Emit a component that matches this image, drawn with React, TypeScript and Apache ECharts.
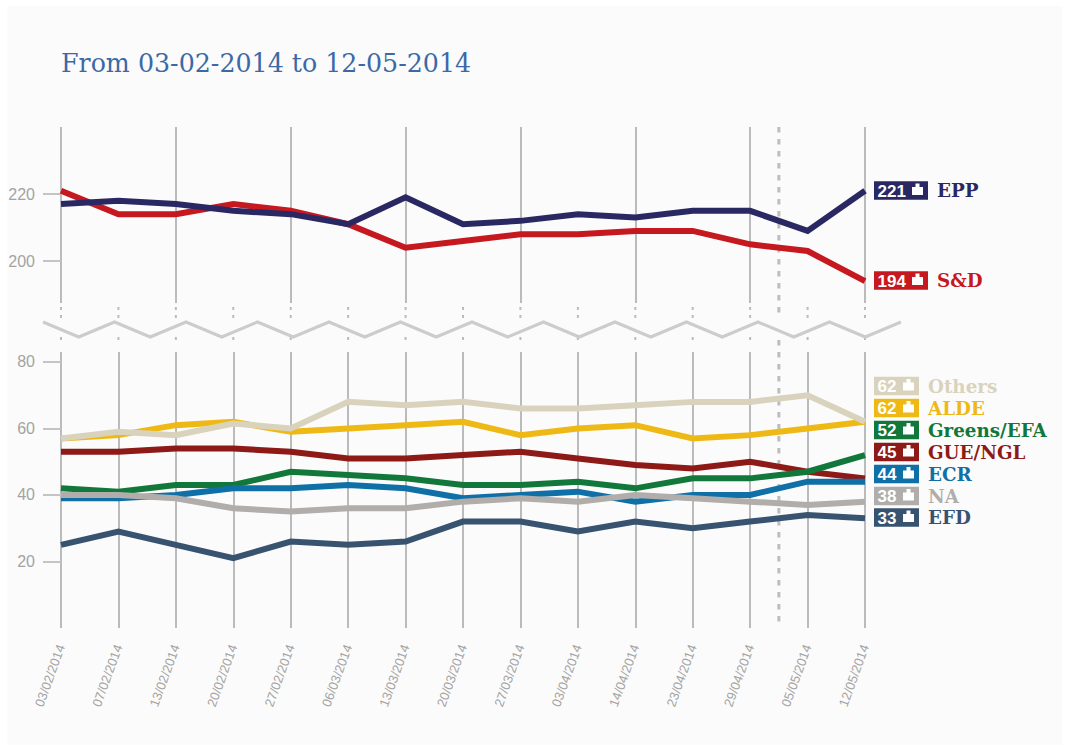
import React, { useEffect, useRef } from "react";
import * as echarts from "echarts";

const W = 1068;
const H = 747;

const dates = ["03/02/2014","07/02/2014","13/02/2014","20/02/2014","27/02/2014","06/03/2014","13/03/2014","20/03/2014","27/03/2014","03/04/2014","14/04/2014","23/04/2014","29/04/2014","05/05/2014","12/05/2014"];

const epp = [217,218,217,215,214,211,219,211,212,214,213,215,215,209,221];
const sd = [221,214,214,217,215,211,204,206,208,208,209,209,205,203,194];
const others = [57,59,58,61.5,60,68,67,68,66,66,67,68,68,70,62];
const alde = [57,58,61,62,59,60,61,62,58,60,61,57,58,60,62];
const greens = [42,41,43,43,47,46,45,43,43,44,42,45,45,47,52];
const gue = [53,53,54,54,53,51,51,52,53,51,49,48,50,47,45];
const ecr = [39,39,40,42,42,43,42,39,40,41,38,40,40,44,44];
const na = [40,40,39,36,35,36,36,38,39,38,40,39,38,37,38];
const efd = [25,29,25,21,26,25,26,32,32,29,32,30,32,34,33];

const upperTicks = [200, 220];
const lowerTicks = [20, 40, 60, 80];

const titleText = "From 03-02-2014 to 12-05-2014";

const C = {
  epp: "#2a2863", sd: "#c5181f", others: "#d9d3bd", alde: "#eeb914", greens: "#12773a",
  gue: "#8e1a17", ecr: "#0f70a8", na: "#b0adab", efd: "#38536f",
};

const upperSeries = [
  { name: "S&D", data: sd, color: C.sd },
  { name: "EPP", data: epp, color: C.epp },
];
const lowerSeries = [
  { name: "GUE/NGL", data: gue, color: C.gue },
  { name: "Greens/EFA", data: greens, color: C.greens },
  { name: "ECR", data: ecr, color: C.ecr },
  { name: "NA", data: na, color: C.na },
  { name: "EFD", data: efd, color: C.efd },
  { name: "ALDE", data: alde, color: C.alde },
  { name: "Others", data: others, color: C.others },
];

const tags = [
  { name: "EPP", value: epp[14], color: C.epp, y: 190.5, w: 54 },
  { name: "S&D", value: sd[14], color: C.sd, y: 280.5, w: 54 },
  { name: "Others", value: others[14], color: C.others, y: 386, w: 45 },
  { name: "ALDE", value: alde[14], color: C.alde, y: 408, w: 45 },
  { name: "Greens/EFA", value: greens[14], color: C.greens, y: 430, w: 45 },
  { name: "GUE/NGL", value: gue[14], color: C.gue, y: 452, w: 45 },
  { name: "ECR", value: ecr[14], color: C.ecr, y: 474, w: 45 },
  { name: "NA", value: na[14], color: C.na, y: 496, w: 45 },
  { name: "EFD", value: efd[14], color: C.efd, y: 517.5, w: 45 },
];

const X0 = 61;
const X1 = 865;
const GRID_RIGHT = W - X1;
const LINE = "#bbbbbb";
const AXIS_TEXT = "#a3a3a3";

function buildGraphics() {
  const els: any[] = [];
  const step = (X1 - X0) / (dates.length - 1);

  // Slightly tinted panel behind the chart
  els.push({ type: "rect", silent: true, z: -1, shape: { x: 7, y: 6, width: 1055, height: 739 }, style: { fill: "#fbfbfb" } });

  // Broken-axis marks: dashes around the break on every date line
  dates.forEach((_, i) => {
    const x = X0 + i * step;
    [[307, 310], [315, 318], [337, 340]].forEach(([a, b]) => {
      els.push({ type: "line", silent: true, shape: { x1: x, y1: a, x2: x, y2: b }, style: { stroke: LINE, lineWidth: 2 } });
    });
  });

  // Zigzag of the broken axis
  const pts: number[][] = [];
  for (let i = 0; i <= 24; i++) pts.push([43 + i * 35.75, i % 2 === 0 ? 322 : 337]);
  els.push({ type: "polyline", silent: true, shape: { points: pts }, style: { stroke: "#cccccc", lineWidth: 3, fill: "none" } });

  // Dotted vertical line between the last two periods
  const dx = X0 + 12.5 * step;
  [[127, 318], [340, 628]].forEach(([a, b]) => {
    els.push({ type: "line", silent: true, shape: { x1: dx, y1: a, x2: dx, y2: b }, style: { stroke: "#bdbdbd", lineWidth: 3, lineDash: [5.5, 6.5] } });
  });

  // End tags
  tags.forEach((t) => {
    const left = 874;
    const h = 18.5;
    const top = t.y - h / 2;
    els.push({ type: "rect", silent: true, shape: { x: left, y: top, width: t.w, height: h }, style: { fill: t.color } });
    els.push({ type: "text", silent: true, x: left + 3.5, y: t.y + 0.5, style: { text: String(t.value), fill: "#ffffff", font: 'bold 17px "Liberation Sans", sans-serif', verticalAlign: "middle" } });
    const ix = left + t.w - 16;
    els.push({ type: "rect", silent: true, shape: { x: ix, y: t.y - 3.5, width: 11, height: 8 }, style: { fill: "#ffffff" } });
    els.push({ type: "rect", silent: true, shape: { x: ix + 3.5, y: t.y - 7, width: 4, height: 4 }, style: { fill: "#ffffff" } });
    els.push({ type: "text", silent: true, x: left + t.w + 9, y: t.y, style: { text: t.name, fill: t.color, font: 'bold 18.3px "DejaVu Serif", serif', verticalAlign: "middle" } });
  });
  return els;
}

function lineSeries(s: { name: string; data: number[]; color: string }, idx: number) {
  return {
    type: "line", name: s.name, data: s.data, xAxisIndex: idx, yAxisIndex: idx,
    showSymbol: false, smooth: false, lineStyle: { color: s.color, width: 6, join: "miter" }, itemStyle: { color: s.color },
    emphasis: { disabled: true },
  };
}

export default function App() {
  const ref = useRef<HTMLDivElement>(null);
  useEffect(() => {
    if (!ref.current) return;
    const chart = echarts.init(ref.current, null, { renderer: "svg" });
    const yLabel = { color: AXIS_TEXT, fontSize: 16, fontFamily: '"Liberation Sans", sans-serif', margin: 26 };
    const yTick = { show: true, length: 18, lineStyle: { color: "#c4c4c4", width: 2 } };
    const xSplit = { show: true, lineStyle: { color: LINE, width: 2 } };
    chart.setOption({
      animation: false,
      backgroundColor: "#ffffff",
      title: { text: titleText, left: 61, top: 51, padding: 0, textStyle: { color: "#3c69a6", fontSize: 25.3, fontWeight: "normal", fontFamily: '"DejaVu Serif", serif' } },
      tooltip: { show: false },
      grid: [
        { left: X0, right: GRID_RIGHT, top: 127, height: 176 },
        { left: X0, right: GRID_RIGHT, top: 352, height: 276 },
      ],
      xAxis: [
        { gridIndex: 0, type: "category", data: dates, boundaryGap: false, axisLine: { show: false }, axisTick: { show: false }, axisLabel: { show: false }, splitLine: xSplit },
        { gridIndex: 1, type: "category", data: dates, boundaryGap: false, axisLine: { show: false }, axisTick: { show: false },
          axisLabel: { interval: 0, rotate: 70, color: AXIS_TEXT, fontSize: 13, margin: 17, fontFamily: '"Liberation Sans", sans-serif' }, splitLine: xSplit },
      ],
      yAxis: [
        { gridIndex: 0, type: "value", min: 187.5, max: 240, axisLine: { show: false }, splitLine: { show: false },
          axisTick: { ...yTick, customValues: upperTicks }, axisLabel: { ...yLabel, customValues: upperTicks } },
        { gridIndex: 1, type: "value", min: 0, max: 83, axisLine: { show: false }, splitLine: { show: false },
          axisTick: { ...yTick, customValues: lowerTicks }, axisLabel: { ...yLabel, customValues: lowerTicks } },
      ],
      series: [...upperSeries.map((s) => lineSeries(s, 0)), ...lowerSeries.map((s) => lineSeries(s, 1))],
      graphic: { elements: buildGraphics() },
    });
    return () => chart.dispose();
  }, []);
  return <div ref={ref} style={{ position: "absolute", left: 0, top: 0, width: W, height: H }} />;
}
